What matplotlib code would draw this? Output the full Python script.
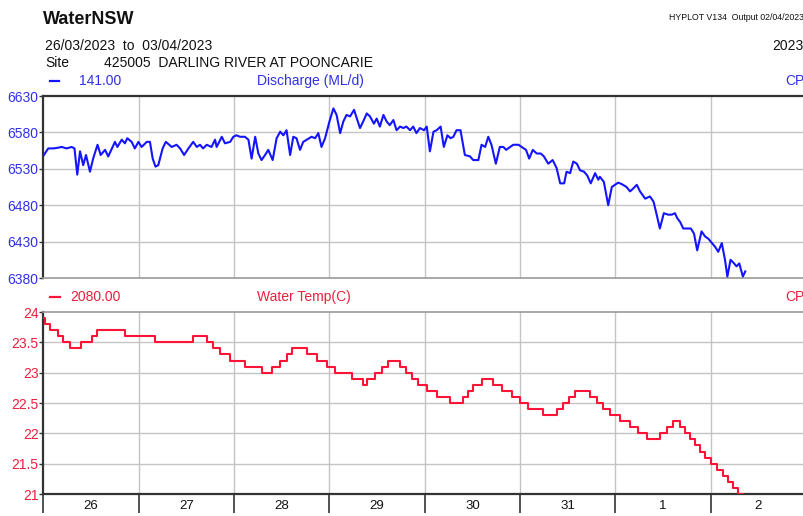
import matplotlib
matplotlib.use("Agg")
import matplotlib.pyplot as plt
from matplotlib.ticker import FixedLocator, NullFormatter

plt.rcParams['font.family'] = ['Liberation Sans', 'DejaVu Sans']

# ---------------- data ----------------
# hours since 26/03/2023 00:00
discharge_hours = [0.1, 1.2, 2.5, 3.7, 4.6, 5.8, 7.1, 7.8, 8.5, 9.2, 10.0, 10.7, 11.7, 12.5,
                   13.6, 14.4, 15.5, 16.3, 18.0, 18.6, 19.7, 20.5, 21.1, 22.2, 23.0, 23.9,
                   24.7, 26.0, 26.8, 27.5, 28.2, 28.9, 30.0, 30.8, 32.3, 33.5, 34.4, 35.4,
                   36.5, 37.7, 38.6, 39.4, 40.2, 41.1, 42.3, 43.2, 43.6, 44.9, 45.7,
                   47.0, 47.8, 48.6, 49.5, 50.7, 51.6, 52.4, 53.3, 54.1, 54.9, 55.8, 56.6,
                   57.7, 58.7, 59.6, 60.4, 61.2, 62.1, 62.9, 63.7, 64.6, 65.4, 66.3, 67.5,
                   68.4, 69.2, 70.0, 70.9, 72.0, 73.0, 73.8, 74.7, 75.5, 76.3, 77.2, 78.2,
                   78.9, 79.7, 80.5, 81.4, 82.2, 83.2, 83.9, 84.7, 85.6, 86.4, 87.2, 88.1,
                   88.9, 89.8, 90.6, 91.4, 92.3, 93.1, 93.9,
                   94.8, 95.8, 96.5, 97.3, 98.2, 99.0, 100.0, 100.8, 101.7, 102.5, 103.2,
                   104.0, 105.0, 106.1, 107.4, 108.2, 109.5, 110.3, 111.2, 112.0, 112.8,
                   113.9, 114.9, 115.8, 116.5, 117.5, 118.3, 119.6, 120.4, 121.5, 122.3,
                   123.2, 124.2, 125.2, 126.0, 127.1, 128.2, 129.2, 130.1, 131.1, 131.7,
                   132.6, 133.4, 134.3, 135.1, 136.1, 136.9, 137.8, 138.9, 139.7,
                   140.1, 141.1, 142.2, 143.1, 143.9, 144.7, 145.6, 146.8, 147.7, 148.5,
                   149.4, 150.2, 151.5, 152.7, 153.6, 154.4, 155.2, 156.2, 157.3, 158.2,
                   159.0, 159.6, 160.3, 161.1, 162.1, 163.0, 163.8, 164.6, 165.7, 166.6,
                   167.4, 168.3, 169.1, 169.9, 170.8, 171.6, 172.2, 173.0, 173.9, 174.5,
                   175.2, 176.1, 176.7]
discharge_values = [6549, 6558, 6558, 6559, 6560, 6558, 6560, 6558, 6522, 6554, 6535, 6549, 6526, 6544,
                    6563, 6549, 6556, 6547, 6567, 6560, 6570, 6565, 6572, 6567, 6558, 6567,
                    6560, 6567, 6567, 6544, 6533, 6535, 6558, 6567, 6560, 6563, 6558, 6549,
                    6558, 6567, 6560, 6563, 6558, 6563, 6560, 6570, 6560, 6574, 6565,
                    6567, 6574, 6576, 6574, 6574, 6570, 6544, 6574, 6551, 6542, 6549, 6556,
                    6542, 6572, 6581, 6576, 6583, 6549, 6574, 6572, 6556, 6567, 6570, 6574,
                    6572, 6579, 6560, 6572, 6595, 6613, 6604, 6579, 6595, 6604, 6602, 6611,
                    6599, 6586, 6595, 6606, 6602, 6592, 6599, 6588, 6604, 6595, 6590, 6597,
                    6583, 6588, 6586, 6588, 6583, 6588, 6579,
                    6586, 6583, 6588, 6554, 6581, 6583, 6588, 6560, 6576, 6572, 6574,
                    6583, 6583, 6549, 6547, 6542, 6542, 6563, 6560, 6574, 6563,
                    6537, 6560, 6560, 6556, 6560, 6563, 6563, 6560, 6556, 6544,
                    6556, 6551, 6551, 6547, 6537, 6542, 6531, 6510, 6510, 6526,
                    6524, 6540, 6537, 6528, 6526, 6521, 6510, 6524, 6515,
                    6519, 6512, 6480, 6505, 6508, 6511, 6509, 6505, 6499, 6503,
                    6508, 6499, 6489, 6492, 6485, 6467, 6448, 6469, 6467, 6467,
                    6469, 6462, 6457, 6448, 6448, 6448, 6441, 6418, 6444, 6437,
                    6434, 6428, 6423, 6416, 6428, 6405, 6382, 6405, 6400, 6396,
                    6400, 6382, 6389]

temp_hours = [0.0, 0.5, 1.6, 3.7, 5.0, 6.7, 9.4, 12.1, 13.4, 20.5, 28.1, 37.7, 41.1, 42.8,
              44.4, 47.0, 50.7, 54.9, 57.5, 59.5, 61.2, 62.5, 66.3, 68.8, 71.3, 73.4,
              77.6, 80.5, 81.4, 83.5, 85.2, 86.8, 89.8, 91.4, 92.7, 94.4, 96.5, 99.0,
              102.4, 105.7, 107.0, 108.2, 110.3, 113.3, 115.4, 117.9, 120.0, 122.1,
              125.9, 129.2, 130.9, 132.2, 133.8, 137.6, 139.3, 141.0, 142.6, 145.2,
              147.7, 149.8, 151.9, 155.2, 156.9, 158.6, 160.3, 161.5, 162.8, 164.1,
              165.3, 166.6, 168.2, 169.5, 171.2, 172.4, 173.7, 174.9, 176.2]
temp_values = [23.9, 23.8, 23.7, 23.6, 23.5, 23.4, 23.5, 23.6, 23.7, 23.6, 23.5, 23.6, 23.5, 23.4,
               23.3, 23.2, 23.1, 23.0, 23.1, 23.2, 23.3, 23.4, 23.3, 23.2, 23.1, 23.0,
               22.9, 22.8, 22.9, 23.0, 23.1, 23.2, 23.1, 23.0, 22.9, 22.8, 22.7, 22.6,
               22.5, 22.6, 22.7, 22.8, 22.9, 22.8, 22.7, 22.6, 22.5, 22.4,
               22.3, 22.4, 22.5, 22.6, 22.7, 22.6, 22.5, 22.4, 22.3, 22.2,
               22.1, 22.0, 21.9, 22.0, 22.1, 22.2, 22.1, 22.0, 21.9, 21.8,
               21.7, 21.6, 21.5, 21.4, 21.3, 21.2, 21.1, 21.0, 21.0]

day_labels = ['26', '27', '28', '29', '30', '31', '1', '2']
discharge_ticks = [6380, 6430, 6480, 6530, 6580, 6630]
temp_ticks = [21, 21.5, 22, 22.5, 23, 23.5, 24]
temp_tick_labels = ['21', '21.5', '22', '22.5', '23', '23.5', '24']

# ---------------- style ----------------
W, H = 804, 516
BLUE_LINE = '#1414ff'
BLUE_TXT = '#3030e6'
RED_LINE = '#ff1438'
RED_TXT = '#e8203c'
GRID = '#c4c4c4'
SPINE = '#333333'

fig = plt.figure(figsize=(W / 100, H / 100), dpi=100)

def fx(px):
    return px / W

def fy(py):
    return 1 - py / H

left_px, right_px = 43.5, 806
ax1 = fig.add_axes([fx(left_px), fy(278), fx(right_px - left_px), (278 - 96) / H])
ax2 = fig.add_axes([fx(left_px), fy(494), fx(right_px - left_px), (494 - 312) / H])

day_bounds = [24 * i for i in range(9)]
day_mids = [24 * i + 12 for i in range(8)]

for ax in (ax1, ax2):
    ax.set_xlim(0, 192)
    for xb in day_bounds[1:-1]:
        ax.axvline(xb, color=GRID, lw=1.0, zorder=0)
    ax.spines['right'].set_visible(False)
    ax.spines['left'].set_color(SPINE)
    ax.spines['left'].set_linewidth(1.6)

# top panel
ax1.plot(discharge_hours, discharge_values, color=BLUE_LINE, lw=1.5, zorder=3)
ax1.set_ylim(6380, 6630)
ax1.set_yticks(discharge_ticks)
ax1.set_yticklabels([str(v) for v in discharge_ticks])
for v in discharge_ticks[1:-1]:
    ax1.axhline(v, color=GRID, lw=1.0, zorder=0)
ax1.tick_params(axis='y', colors=SPINE, labelcolor=BLUE_TXT, length=3, width=1,
                pad=0.5, labelsize=10)
ax1.set_xticks([])
ax1.spines['top'].set_color(SPINE)
ax1.spines['top'].set_linewidth(1.6)
ax1.spines['bottom'].set_color('#9a9a9a')
ax1.spines['bottom'].set_linewidth(1.2)

# bottom panel
ax2.plot(temp_hours, temp_values, color=RED_LINE, lw=1.5, drawstyle='steps-post', zorder=3)
ax2.set_ylim(21, 24)
ax2.set_yticks(temp_ticks)
ax2.set_yticklabels(temp_tick_labels)
for v in temp_ticks[1:-1]:
    ax2.axhline(v, color=GRID, lw=1.0, zorder=0)
ax2.tick_params(axis='y', colors=SPINE, labelcolor=RED_TXT, length=3, width=1,
                pad=0.5, labelsize=10)
ax2.spines['top'].set_color('#9a9a9a')
ax2.spines['top'].set_linewidth(1.2)
ax2.spines['bottom'].set_color(SPINE)
ax2.spines['bottom'].set_linewidth(1.6)
ax2.xaxis.set_major_locator(FixedLocator(day_bounds))
ax2.xaxis.set_major_formatter(NullFormatter())
ax2.xaxis.set_minor_locator(FixedLocator(day_mids))
ax2.set_xticklabels(day_labels, minor=True)
ax2.tick_params(axis='x', which='major', length=14, width=1.2, color=SPINE, direction='out')
ax2.tick_params(axis='x', which='minor', length=0, pad=4, labelsize=9.5, labelcolor='#111111')

# ---------------- header texts ----------------
def txt(px, py, s, **kw):
    fig.text(fx(px), fy(py), s, va='center', **kw)

txt(43, 20, 'WaterNSW', fontsize=13, fontweight='bold', color='#111111')
txt(804, 17, 'HYPLOT V134  Output 02/04/2023', fontsize=6.3, ha='right', color='#111111')
txt(45, 46, '26/03/2023  to  03/04/2023', fontsize=10, color='#111111')
txt(804, 46, '2023', fontsize=10, ha='right', color='#111111')
txt(45, 63, 'Site', fontsize=10, color='#111111')
txt(104, 63, '425005  DARLING RIVER AT POONCARIE', fontsize=10, color='#111111')

fig.add_artist(plt.Line2D([fx(50), fx(59)], [fy(81), fy(81)], color=BLUE_LINE, lw=1.6))
txt(121, 81, '141.00', fontsize=10, ha='right', color=BLUE_TXT)
txt(257, 81, 'Discharge (ML/d)', fontsize=10, color=BLUE_TXT)
txt(785, 81, 'CP', fontsize=10, color=BLUE_TXT)

fig.add_artist(plt.Line2D([fx(50), fx(60)], [fy(297), fy(297)], color=RED_LINE, lw=1.6))
txt(121, 297, '2080.00', fontsize=10, ha='right', color=RED_TXT)
txt(257, 297, 'Water Temp(C)', fontsize=10, color=RED_TXT)
txt(785, 297, 'CP', fontsize=10, color=RED_TXT)

fig.savefig('out.png', dpi=100)
